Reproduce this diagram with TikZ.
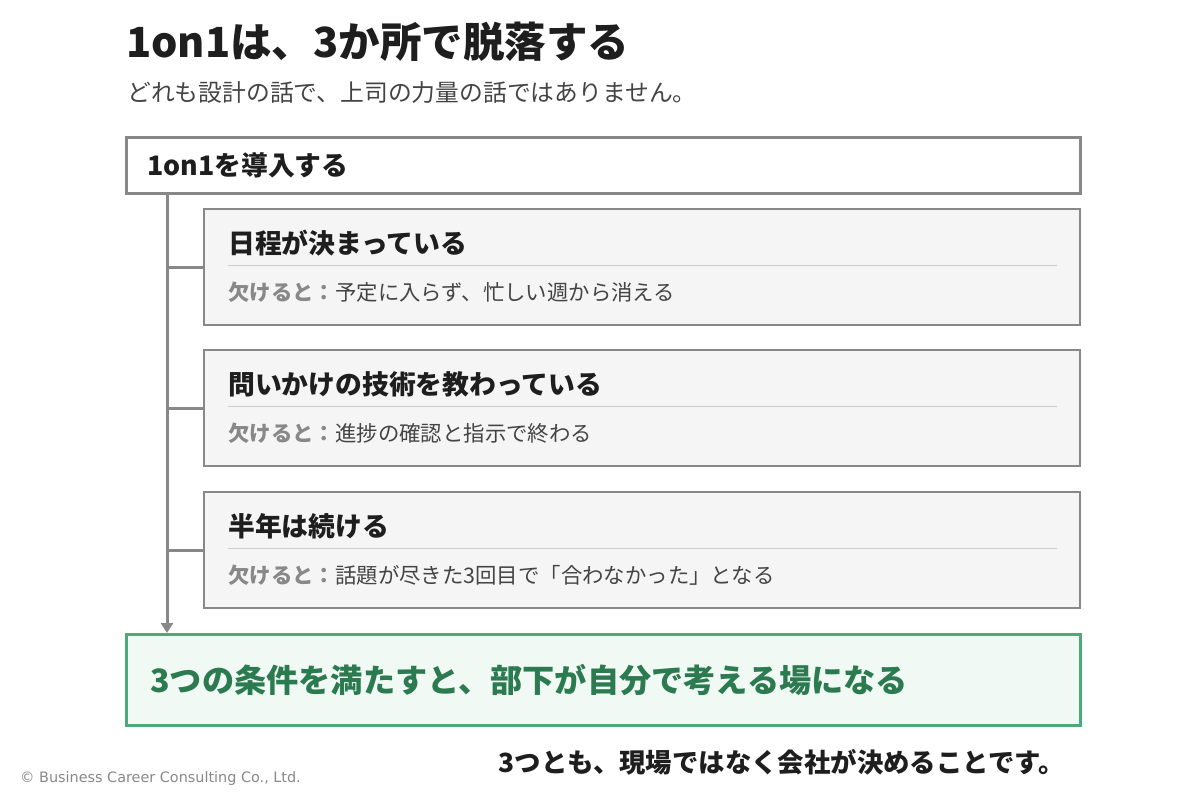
\documentclass[tikz,border=0pt]{standalone}
\usepackage{fontspec}
\setmainfont{Noto Sans CJK JP}
\newfontfamily\latin{DejaVu Sans}
\usetikzlibrary{arrows.meta,positioning}
\definecolor{edge}{HTML}{888888}
\definecolor{boxbg}{HTML}{F5F5F5}
\definecolor{rule}{HTML}{CCCCCC}
\definecolor{ink}{HTML}{1E1E1E}
\definecolor{soft}{HTML}{444444}
\definecolor{goodline}{HTML}{4DAA78}
\definecolor{goodbg}{HTML}{F1F9F4}
\definecolor{goodtext}{HTML}{2B7A50}
\def\fs#1{\fontsize{#1}{#1}\selectfont}
\tikzset{
  condbox/.style={draw=edge,line width=2pt,fill=boxbg,anchor=north west,
    minimum width=876pt,minimum height=116pt,inner sep=0pt},
  condhead/.style={anchor=west,inner sep=0pt,text=ink,font=\fs{26.8}\bfseries},
  conddesc/.style={anchor=west,inner sep=0pt,text=soft,font=\fs{21.4}},
  trunk/.style={draw=edge,line width=3pt}
}
% one condition box: name, top edge, heading, text
\def\cond#1#2#3#4{%
  \node[condbox] (#1) at (203,#2) {};
  \node[condhead] (#1h) at ([xshift=25pt,yshift=-35pt]#1.north west) {#3};
  \draw[rule,line width=1pt] ([xshift=25pt,yshift=-57pt]#1.north west)
    -- ([xshift=-24pt,yshift=-57pt]#1.north east);
  \node[conddesc] (#1d) at ([xshift=25pt,yshift=-84pt]#1.north west)
    {\textcolor{edge}{\bfseries 欠けると：}#4};
  \draw[trunk] (#1.west) -- (#1.west -| top);
}

\begin{document}
\begin{tikzpicture}[x=1pt,y=-1pt]
  \useasboundingbox (0,0) rectangle (1200,800);
  \node[anchor=west,inner sep=0pt,text=ink,font=\fs{41.5}\bfseries] (title) at (126,42)
    {1on1は、3か所で脱落する};
  \node[anchor=west,inner sep=0pt,text=soft,font=\fs{23.8}] (sub) at (127,93)
    {どれも設計の話で、上司の力量の話ではありません。};

  \node[draw=edge,line width=2.5pt,fill=white,anchor=north west,minimum width=954pt,
    minimum height=56pt,inner sep=0pt] (intro) at (125,136) {};
  \node[anchor=west,inner sep=0pt,text=ink,font=\fs{26.8}\bfseries] (introt)
    at ([xshift=22pt]intro.west) {1on1を導入する};

  \node[draw=goodline,line width=2.5pt,fill=goodbg,anchor=north west,minimum width=954pt,
    minimum height=91pt,inner sep=0pt] (goal) at (125,633) {};
  \node[anchor=west,inner sep=0pt,text=goodtext,font=\fs{32.2}\bfseries] (goalt)
    at ([xshift=25pt]goal.west) {3つの条件を満たすと、部下が自分で考える場になる};

  \coordinate (top) at ([xshift=42pt]intro.south west);
  \draw[trunk,-{Triangle[length=10pt,width=12pt]}] (top) -- (top |- goal.north);

  \cond{sched}{208}{日程が決まっている}{予定に入らず、忙しい週から消える}
  \cond{skill}{349}{問いかけの技術を教わっている}{進捗の確認と指示で終わる}
  \cond{keep}{491}{半年は続ける}{話題が尽きた3回目で「合わなかった」となる}

  \node[anchor=east,inner sep=0pt,text=ink,font=\fs{26.4}\bfseries] (note) at (1065,762)
    {3つとも、現場ではなく会社が決めることです。};
  \node[anchor=west,inner sep=0pt,text=edge,font=\latin\fs{14.4}] (copy) at (20,779)
    {© Business Career Consulting Co., Ltd.};
\end{tikzpicture}
\end{document}
